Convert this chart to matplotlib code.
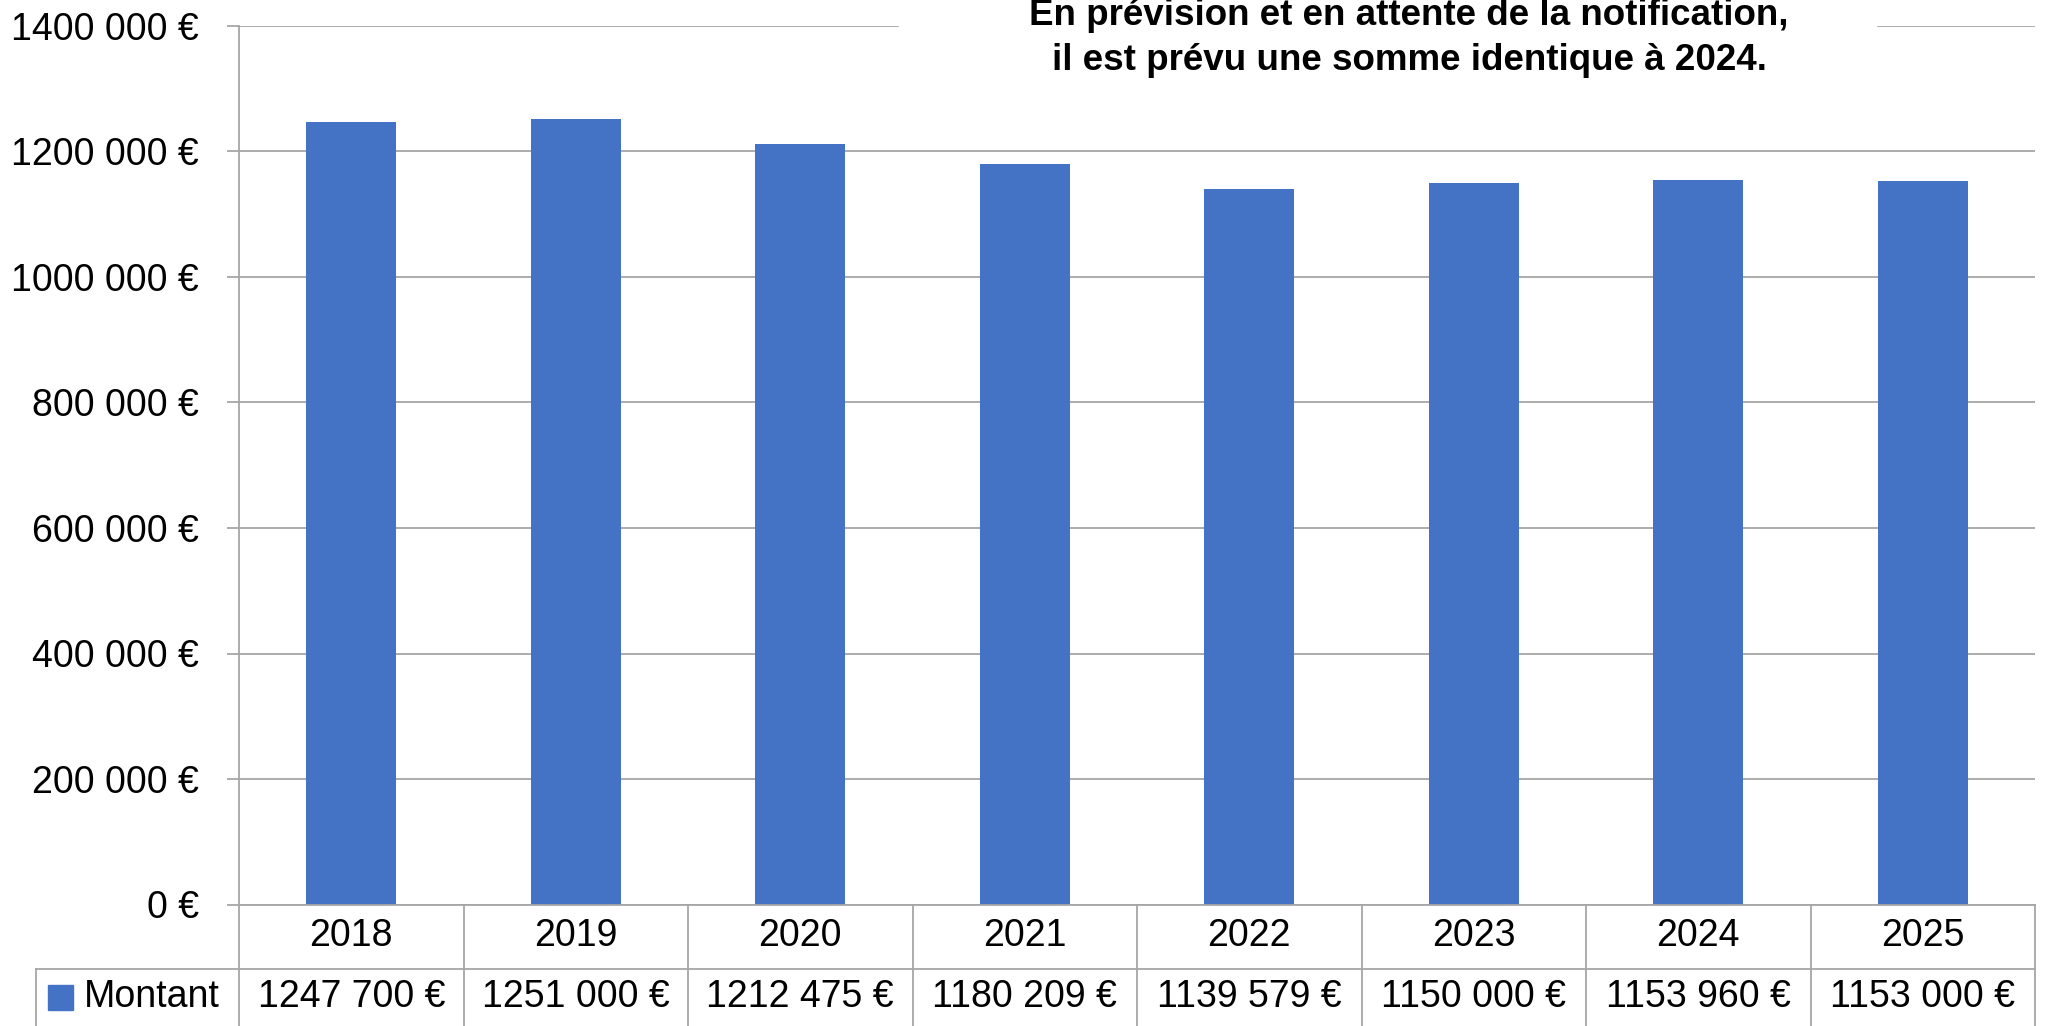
import matplotlib
matplotlib.use("Agg")
import matplotlib.pyplot as plt
from matplotlib.patches import Rectangle
import numpy as np

# data
years = ["2018", "2019", "2020", "2021", "2022", "2023", "2024", "2025"]
montant = [1247700, 1251000, 1212475, 1180209, 1139579, 1150000, 1153960, 1153000]
montant_labels = ["1247 700 €", "1251 000 €", "1212 475 €", "1180 209 €",
                  "1139 579 €", "1150 000 €", "1153 960 €", "1153 000 €"]
yticks = [0, 200000, 400000, 600000, 800000, 1000000, 1200000, 1400000]
ytick_labels = ["0 €", "200 000 €", "400 000 €", "600 000 €", "800 000 €",
                "1000 000 €", "1200 000 €", "1400 000 €"]
series_name = "Montant"
title_lines = "En prévision et en attente de la notification,\nil est prévu une somme identique à 2024."

plt.rcParams['font.family'] = ['Liberation Sans', 'DejaVu Sans']
blue = "#4472C4"
grey = "#A6A6A6"
fs = 27

W, H = 2049, 1026
fig = plt.figure(figsize=(W / 100, H / 100), dpi=100)
# plot area in pixels: x 239..2035, y 26..904
ax = fig.add_axes([239 / W, 1 - 904.5 / H, (2035 - 239) / W, (904.5 - 26) / H])

x = np.arange(len(years))
ax.bar(x, montant, width=0.4, color=blue, zorder=2)
ax.set_xlim(-0.5, len(years) - 0.5)
ax.set_ylim(0, 1400000)
ax.set_yticks(yticks)
ax.set_yticklabels(ytick_labels, fontsize=fs)
ax.set_xticks([])
ax.yaxis.grid(True, color=grey, linewidth=1.3, zorder=0)
ax.tick_params(axis='y', length=9, width=1.3, color=grey, pad=20)
for s in ["top", "right", "bottom"]:
    ax.spines[s].set_visible(False)
ax.spines["left"].set_color(grey)
ax.spines["left"].set_linewidth(1.3)

# data table under the chart
tr = ax.get_xaxis_transform()
px = 878.5  # axis height in pixels
row1 = -(969 - 904.5) / px
bot = -(1030 - 904.5) / px
left_x = -0.5 - (239 - 36) / 224.5
for i in range(len(years) + 1):
    ax.plot([i - 0.5, i - 0.5], [0, bot], transform=tr, color=grey, lw=1.3, clip_on=False)
ax.plot([left_x, len(years) - 0.5], [row1, row1], transform=tr, color=grey, lw=1.3, clip_on=False)
ax.plot([left_x, left_x], [row1, bot], transform=tr, color=grey, lw=1.3, clip_on=False)
ax.plot([-0.5, len(years) - 0.5], [0, 0], transform=tr, color=grey, lw=1.3, clip_on=False)

for i, (yr, lab) in enumerate(zip(years, montant_labels)):
    ax.text(i, -(936 - 904.5) / px, yr, transform=tr, ha='center', va='center', fontsize=fs)
    ax.text(i, -(997 - 904.5) / px, lab, transform=tr, ha='center', va='center', fontsize=fs)

# legend key + series name
fig.patches.append(Rectangle((48 / W, 1 - 1010 / H), 25 / W, 25 / H,
                             transform=fig.transFigure, color=blue, zorder=3))
fig.text(84 / W, 1 - 997 / H, series_name, ha='left', va='center', fontsize=fs)

# title on white box over the top gridline
fig.patches.append(Rectangle((899 / W, 1 - 92 / H), (1876 - 899) / W, 92 / H,
                             transform=fig.transFigure, color='white', zorder=1))
fig.text(1409 / W, 1 - 38 / H, title_lines, ha='center', va='center',
         fontsize=26.5, fontweight='bold', linespacing=1.4)

fig.savefig("out.png", dpi=100)
